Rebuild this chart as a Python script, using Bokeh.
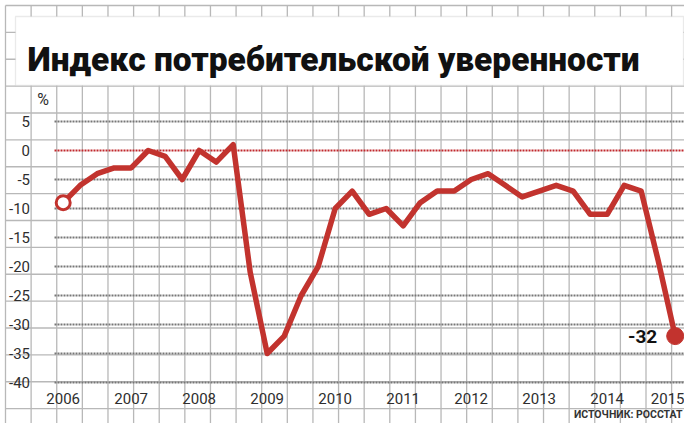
from bokeh.plotting import figure
from bokeh.models import Range1d, FixedTicker, BoxAnnotation, Label
from bokeh.embed import file_html
from bokeh.resources import INLINE

# ---------------- data ----------------
periods = [2006.0, 2006.25, 2006.5, 2006.75,
           2007.0, 2007.25, 2007.5, 2007.75,
           2008.0, 2008.25, 2008.5, 2008.75,
           2009.0, 2009.25, 2009.5, 2009.75,
           2010.0, 2010.25, 2010.5, 2010.75,
           2011.0, 2011.25, 2011.5, 2011.75,
           2012.0, 2012.25, 2012.5, 2012.75,
           2013.0, 2013.25, 2013.5, 2013.75,
           2014.0, 2014.25, 2014.5, 2014.75,
           2015.0]
index_values = [-9, -6, -4, -3,
                -3, 0, -1, -5,
                0, -2, 1, -21,
                -35, -32, -25, -20,
                -10, -7, -11, -10,
                -13, -9, -7, -7,
                -5, -4, -6, -8,
                -7, -6, -7, -11,
                -11, -6, -7, -19,
                -32]
year_ticks = [2006, 2007, 2008, 2009, 2010, 2011, 2012, 2013, 2014, 2015]
year_labels = ["2006", "2007", "2008", "2009", "2010", "2011", "2012", "2013", "2014", "2015"]
y_ticks = [5, 0, -5, -10, -15, -20, -25, -30, -35, -40]
y_labels = ["5", "0", "-5", "-10", "-15", "-20", "-25", "-30", "-35", "-40"]
title_text = "Индекс потребительской уверенности"
unit_text = "%"
source_text = "ИСТОЧНИК: РОССТАТ"

# ---------------- layout helpers ----------------
W, H = 684, 423
X0_PX, PX_PER_YEAR = 62.7, 68.0
Y0_PX, PX_PER_UNIT = 150.0, 5.8


def px_to_x(px):
    return 2006 + (px - X0_PX) / PX_PER_YEAR


def px_to_y(py):
    return (Y0_PX - py) / PX_PER_UNIT


RED = "#c2332e"
GRID_PAPER = "#b8b8b8"
TICK_FONT = "Roboto"

p = figure(width=W, height=H, output_backend="svg", toolbar_location=None,
           x_range=Range1d(px_to_x(0), px_to_x(W)),
           y_range=Range1d(px_to_y(H), px_to_y(0)),
           min_border=0, title=None,
           background_fill_color="white", border_fill_color="white",
           outline_line_color=None)
p.xgrid.visible = False
p.ygrid.visible = False

# ---------------- paper grid ----------------
vx = [px_to_x(5 + 25.62 * k) for k in range(0, 28)]
hy = [px_to_y(5 + 26.875 * k) for k in range(0, 17)]
gtop, gbottom = px_to_y(5), px_to_y(435)
gleft, gright = px_to_x(5), px_to_x(696.7)
p.segment(x0=vx, y0=[gbottom] * len(vx), x1=vx, y1=[gtop] * len(vx),
          line_color=GRID_PAPER, line_width=1.3)
p.segment(x0=[gleft] * len(hy), y0=hy, x1=[gright] * len(hy), y1=hy,
          line_color=GRID_PAPER, line_width=1.3)

# ---------------- value gridlines ----------------
gx0, gx1 = px_to_x(54), px_to_x(683)
gray_t = [t for t in y_ticks if t != 0]
p.segment(x0=[gx0] * len(gray_t), y0=gray_t, x1=[gx1] * len(gray_t), y1=gray_t,
          line_color="#777777", line_width=2.2, line_dash="2 1")
zero_t = [t for t in y_ticks if t == 0]
p.segment(x0=[gx0] * len(zero_t), y0=zero_t, x1=[gx1] * len(zero_t), y1=zero_t,
          line_color="#c0282d", line_width=2.2, line_dash="2 1")

# ---------------- axes (placed inside the frame) ----------------
p.xaxis.fixed_location = px_to_y(392)
p.xaxis.ticker = FixedTicker(ticks=year_ticks)
p.xaxis.major_label_overrides = dict(zip(year_ticks, year_labels))
p.yaxis.fixed_location = px_to_x(29.5)
p.yaxis.ticker = FixedTicker(ticks=y_ticks)
p.yaxis.major_label_overrides = dict(zip(y_ticks, y_labels))
for ax in (p.xaxis, p.yaxis):
    ax.axis_line_color = None
    ax.major_tick_line_color = None
    ax.minor_tick_line_color = None
    ax.major_tick_out = 0
    ax.major_tick_in = 0
    ax.major_label_standoff = 0
    ax.major_label_text_font = TICK_FONT
    ax.major_label_text_font_size = "15px"
    ax.major_label_text_color = "#2e2e2e"
    ax.major_label_text_font_style = "normal"

# ---------------- data line ----------------
p.line(periods, index_values, line_color=RED, line_width=5.5,
       line_join="round", line_cap="round")
p.scatter(periods[:1], index_values[:1], size=14, fill_color="white",
          line_color=RED, line_width=3)
p.scatter(periods[-1:], index_values[-1:], size=17, fill_color=RED,
          line_color=RED, line_width=1)

p.add_layout(Label(x=periods[-1], y=index_values[-1], x_offset=-18,
                   text=str(index_values[-1]), text_align="right",
                   text_baseline="middle", text_font="Roboto",
                   text_font_style="bold", text_font_size="19px",
                   text_color="#111111"))

# ---------------- title box ----------------
p.add_layout(BoxAnnotation(left=px_to_x(15), right=px_to_x(683),
                           top=px_to_y(16), bottom=px_to_y(85),
                           fill_color="white", fill_alpha=1.0,
                           line_color=GRID_PAPER, line_width=1.3))
p.add_layout(Label(x=px_to_x(27), y=px_to_y(59), text=title_text,
                   text_align="left", text_baseline="alphabetic",
                   text_font="Roboto Black, Roboto", text_font_style="bold",
                   text_font_size="33.5px", text_color="#111111"))

p.add_layout(Label(x=px_to_x(42.5), y=px_to_y(98.5), text=unit_text,
                   text_align="center", text_baseline="middle",
                   text_font="Roboto", text_font_size="16px",
                   text_color="#2e2e2e"))
p.add_layout(Label(x=px_to_x(682), y=px_to_y(414), text=source_text,
                   text_align="right", text_baseline="middle",
                   text_font="Roboto", text_font_style="bold",
                   text_font_size="10.5px", text_color="#333333"))

open("out.html", "w").write(file_html(p, INLINE))
